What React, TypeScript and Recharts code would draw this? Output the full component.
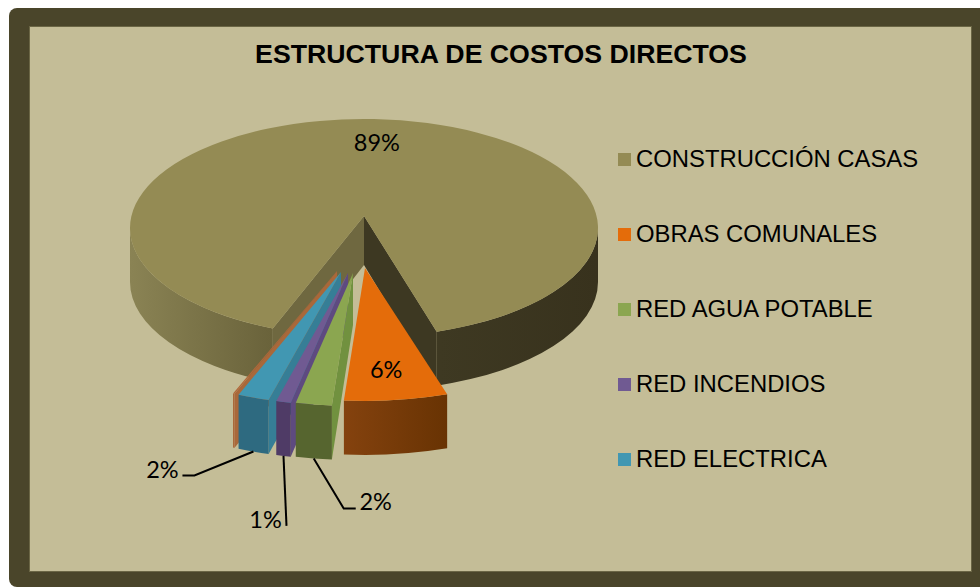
import { Legend, Pie, PieChart } from "recharts";

const names = [
  "CONSTRUCCIÓN CASAS",
  "OBRAS COMUNALES",
  "RED AGUA POTABLE",
  "RED INCENDIOS",
  "RED ELECTRICA",
  "",
];
const values = [88.6, 6.3, 2.2, 0.9, 1.9, 0.1];
const legendColors = ["#948B54", "#E46C0A", "#8BA650", "#705A92", "#4197B2"];

// main slice first, the rest back to front so the nearer ones paint on top
const order = [0, 5, 4, 3, 2, 1];
const rows = order.map((i) => ({ name: names[i], value: values[i], src: i }));

const DEPTH = 54;
const FONT = "'Liberation Sans', Arial, sans-serif";

// per slice look: explode offset, ellipse scale and colours
const LOOK: Record<number, any> = {
  0: { dx: 0, dy: 0, sx: 1, sy: 0.466, drop: 12, apexDepth: 49, top: "#948B54", wall: "url(#mainWall)", hiFace: "#6F6840", loFace: "#3D3822" },
  1: { dx: 1, dy: 52, sx: 1.13, sy: 0.568, drop: 0, apexDepth: 54, top: "#E46C0A", wall: "url(#orangeWall)" },
  2: { dx: -11, dy: 57, sx: 1.13, sy: 0.568, drop: 0, apexDepth: 52, top: "#8BA650", wall: "#56652F", hiFace: "#71913F" },
  3: { dx: -16, dy: 57, sx: 1.13, sy: 0.568, drop: 0, apexDepth: 52, top: "#705A92", wall: "#4F3B66", hiFace: "#5E4A80" },
  4: { dx: -23, dy: 56, sx: 1.14, sy: 0.568, drop: 0, apexDepth: 52, top: "#4197B2", wall: "#2E6A80", hiFace: "#367E96" },
  5: { dx: -27, dy: 55, sx: 1.14, sy: 0.568, drop: 0, apexDepth: 52, top: "#B0683A", wall: "#A9683A", hiFace: "#A9683A" },
};

// label placement relative to the middle of the slice rim
const LABELS: Record<number, any> = {
  0: { x: 3, y: 23 },
  1: { x: -10, y: -31 },
  2: { x: 62, y: 43, line: [[30, 50], [42, 50]] },
  3: { x: -18, y: 63, line: [[3, 70]] },
  4: { x: -91, y: 17, line: [[-59, 24], [-71, 24]] },
};

function geom(props: any, src: number) {
  const l = LOOK[src];
  const ax = props.cx + l.dx;
  const ay = props.cy + l.dy;
  const rx = props.outerRadius * l.sx;
  const ry = props.outerRadius * l.sy;
  const rim = (deg: number) => {
    const a = (deg * Math.PI) / 180;
    return [ax + rx * Math.cos(a), ay + l.drop + ry * -Math.sin(a)];
  };
  return { l, ax, ay, rx, ry, rim };
}

function SliceShape(props: any) {
  const src = rows[props.index].src;
  const { l, ax, ay, rx, ry, rim } = geom(props, src);
  const lo = Math.min(props.startAngle, props.endAngle);
  const hi = Math.max(props.startAngle, props.endAngle);
  const p1 = rim(lo);
  const p2 = rim(hi);
  const large = hi - lo > 180 ? 1 : 0;
  const face = (p: number[], fill: string) => (
    <polygon
      points={`${ax},${ay} ${p[0]},${p[1]} ${p[0]},${p[1] + DEPTH} ${ax},${ay + l.apexDepth}`}
      fill={fill}
    />
  );
  // only the lower half of the rim faces the viewer
  const walls: [number, number][] = [];
  for (const [a, b] of [[-180, 0], [180, 360]]) {
    const s = Math.max(lo, a);
    const e = Math.min(hi, b);
    if (e > s) walls.push([s, e]);
  }
  return (
    <g>
      {l.loFace && face(p1, l.loFace)}
      {l.hiFace && hi < 270 && face(p2, l.hiFace)}
      {walls.map(([s, e]) => {
        const a = rim(s);
        const b = rim(e);
        return (
          <path
            key={s}
            fill={l.wall}
            d={`M${a[0]},${a[1]} A${rx},${ry} 0 0 0 ${b[0]},${b[1]} L${b[0]},${b[1] + DEPTH} A${rx},${ry} 0 0 1 ${a[0]},${a[1] + DEPTH} Z`}
          />
        );
      })}
      <path
        fill={l.top}
        d={`M${ax},${ay} L${p1[0]},${p1[1]} A${rx},${ry} 0 ${large} 0 ${p2[0]},${p2[1]} Z`}
      />
    </g>
  );
}

function SliceLabel(props: any) {
  const src = rows[props.index].src;
  const cfg = LABELS[src];
  if (!cfg) return null;
  const { rim } = geom(props, src);
  const mid = rim(props.midAngle);
  const base = src >= 2 ? DEPTH : 0;
  const x0 = mid[0];
  const y0 = mid[1] + base;
  return (
    <g>
      {cfg.line && (
        <polyline
          points={[[0, 0], ...cfg.line].map((p: number[]) => `${x0 + p[0]},${y0 + p[1]}`).join(" ")}
          fill="none"
          stroke="#000"
          strokeWidth={2}
        />
      )}
      <text
        x={x0 + cfg.x}
        y={y0 + cfg.y}
        textAnchor="middle"
        dominantBaseline="central"
        fontFamily="Lato, sans-serif"
        fontSize={23.5}
        fill="#000"
      >
        {`${Math.round(props.percent * 100)}%`}
      </text>
    </g>
  );
}

function LegendList() {
  return (
    <div>
      {names.slice(0, 5).map((n, i) => (
        <div key={n} style={{ display: "flex", alignItems: "center", height: 75 }}>
          <span style={{ width: 13, height: 13, background: legendColors[i], marginRight: 5 }} />
          <span style={{ fontFamily: FONT, fontSize: 23.85, color: "#000", whiteSpace: "nowrap" }}>{n}</span>
        </div>
      ))}
    </div>
  );
}

export default function App() {
  return (
    <div style={{ position: "absolute", left: 0, top: 0, width: 980, height: 587, overflow: "hidden", background: "#fff" }}>
      <div style={{ position: "absolute", left: 9, top: 8, width: 980, height: 579, background: "#4A452A", borderRadius: 8 }} />
      <div style={{ position: "absolute", left: 30, top: 27, width: 941, height: 544, background: "#C4BD97", boxShadow: "0 0 0 1px #6b6645" }} />
      <div style={{ position: "absolute", left: 0, top: 0 }}>
        <PieChart width={980} height={587} margin={{ top: 0, right: 0, bottom: 0, left: 0 }}>
          <defs>
            <linearGradient id="mainWall" gradientUnits="userSpaceOnUse" x1="130" x2="598" y1="0" y2="0">
              <stop offset="0" stopColor="#8A8354" />
              <stop offset="0.3" stopColor="#6A633B" />
              <stop offset="0.66" stopColor="#3E3922" />
              <stop offset="1" stopColor="#38321D" />
            </linearGradient>
            <linearGradient id="orangeWall" gradientUnits="userSpaceOnUse" x1="345" x2="448" y1="0" y2="0">
              <stop offset="0" stopColor="#84420E" />
              <stop offset="1" stopColor="#683303" />
            </linearGradient>
          </defs>
          <text x={501} y={54} textAnchor="middle" dominantBaseline="central" fontFamily={FONT} fontWeight="bold" fontSize={26.7} fill="#000">
            ESTRUCTURA DE COSTOS DIRECTOS
          </text>
          <Pie
            data={rows}
            dataKey="value"
            nameKey="name"
            cx={364}
            cy={216}
            outerRadius={234}
            startAngle={-71.9}
            endAngle={288.1}
            stroke="none"
            shape={SliceShape}
            label={SliceLabel}
            labelLine={false}
            isAnimationActive={false}
          />
          <Legend
            content={LegendList}
            wrapperStyle={{ position: "absolute", left: 618, top: 121.5, width: 340, bottom: "auto", right: "auto" }}
          />
        </PieChart>
      </div>
    </div>
  );
}
